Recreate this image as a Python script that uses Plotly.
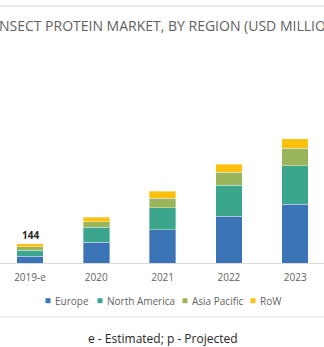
import plotly.graph_objects as go

# Insect protein market by region, USD million
years = ["2019-e", "2020", "2021", "2022", "2023"]
europe = [50, 156, 253, 353, 444]
north_america = [45, 113, 164, 233, 293]
asia_pacific = [27, 43, 74, 99, 131]
row = [22, 33, 53, 61, 71]

series_names = ["Europe", "North America", "Asia Pacific", "RoW"]
series_values = [europe, north_america, asia_pacific, row]
series_colors = ["#3A74B7", "#3BA68C", "#9BB65A", "#FDC00F"]

title_text = "INSECT PROTEIN MARKET, BY REGION (USD MILLION)"
footnote_text = "e - Estimated; p - Projected"

W, H = 324, 347
plot_top, plot_bottom = 50, 263  # pixel rows of the plotting area
units_per_px = 7.56

def py(y):
    return 1 - y / H

fig = go.Figure()
for name, vals, col in zip(series_names, series_values, series_colors):
    fig.add_trace(go.Bar(
        x=years, y=vals, name=name,
        marker=dict(color=col, line=dict(color="rgba(255,255,255,0.6)", width=0.6)),
        showlegend=False,
    ))

totals = [sum(v) for v in zip(*series_values)]

annotations = [
    dict(text=title_text, xref="paper", yref="paper", x=168 / W, y=py(26),
         xanchor="center", yanchor="middle", showarrow=False,
         font=dict(family="Open Sans", size=14, color="#5F5F5F")),
    dict(text=f"<b>{totals[0]}</b>", xref="x", yref="y", x=years[0], y=totals[0],
         yshift=9, xanchor="center", yanchor="middle", showarrow=False,
         font=dict(family="Open Sans", size=10, color="#262626")),
    dict(text=footnote_text, xref="paper", yref="paper", x=163 / W, y=py(338),
         xanchor="center", yanchor="middle", showarrow=False,
         font=dict(family="Open Sans", size=12, color="#262626")),
]

shapes = [
    dict(type="line", xref="paper", yref="paper", x0=0, x1=1, y0=py(6), y1=py(6),
         line=dict(color="#DADADA", width=1)),
    dict(type="line", xref="paper", yref="paper", x0=0, x1=1, y0=py(317), y1=py(317),
         line=dict(color="#E4E4E4", width=1)),
]

# Custom compact legend row
legend_x = [45.5, 97.5, 182.5, 250.5]
legend_y = 300.7
sq = 5
for name, col, lx in zip(series_names, series_colors, legend_x):
    shapes.append(dict(type="rect", xref="paper", yref="paper",
                       x0=lx / W, x1=(lx + sq) / W,
                       y0=py(legend_y + sq / 2), y1=py(legend_y - sq / 2),
                       fillcolor=col, line=dict(width=0)))
    annotations.append(dict(text=name, xref="paper", yref="paper",
                            x=(lx + sq + 2) / W, y=py(legend_y),
                            xanchor="left", yanchor="middle", showarrow=False,
                            font=dict(family="Open Sans", size=10, color="#5F5F5F")))

band = 66.3
first_center = 30
fig.update_layout(
    width=W, height=H, autosize=False,
    margin=dict(l=0, r=0, t=0, b=0),
    paper_bgcolor="white", plot_bgcolor="white",
    barmode="stack", bargap=0.6,
    xaxis=dict(domain=[0, 1], range=[-first_center / band, (W - first_center) / band],
               showline=True, linecolor="#D9D9D9", linewidth=1,
               showgrid=False, zeroline=False, ticks="", ticklabelstandoff=5,
               tickfont=dict(family="Open Sans", size=10, color="#5F5F5F")),
    yaxis=dict(domain=[py(plot_bottom), py(plot_top)],
               range=[0, (plot_bottom - plot_top) * units_per_px],
               visible=False, showgrid=False, zeroline=False),
    annotations=annotations, shapes=shapes,
)

fig.write_html("out.html")
